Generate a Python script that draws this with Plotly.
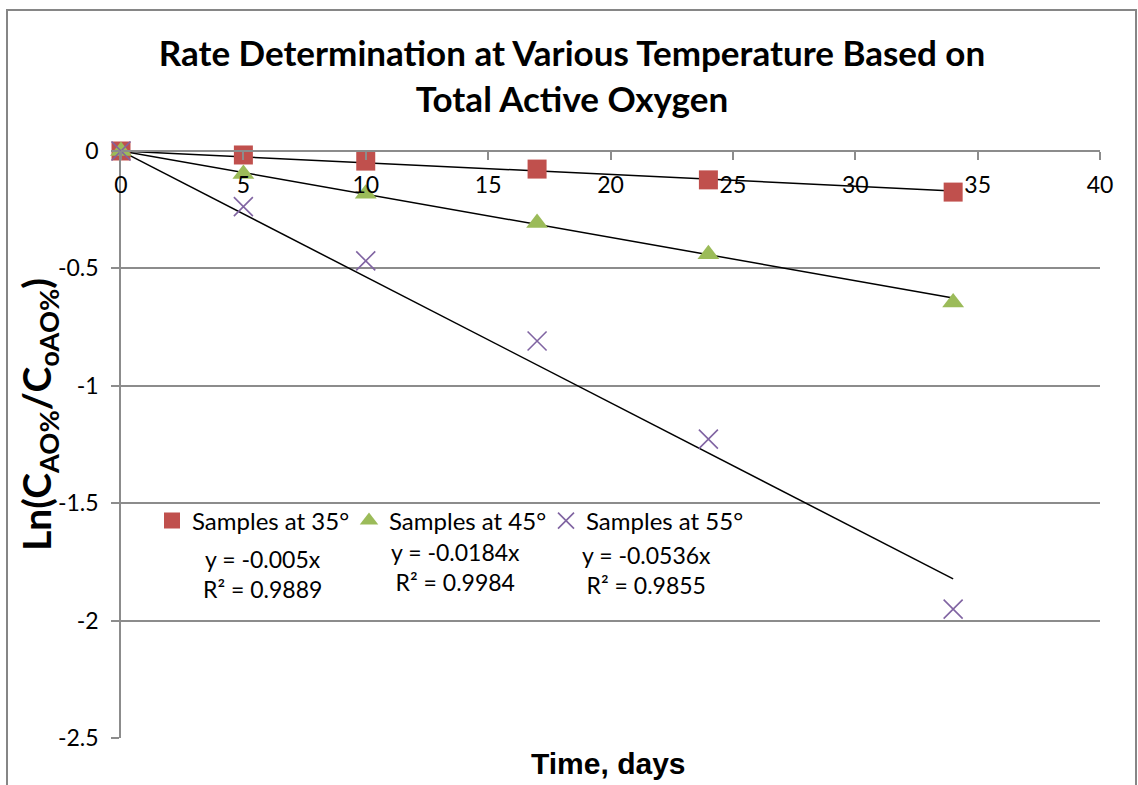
import plotly.graph_objects as go

# ---- data ----
days = [0, 5, 10, 17, 24, 34]
s35 = [0.0, -0.017, -0.043, -0.077, -0.123, -0.175]
s45 = [0.0, -0.098, -0.182, -0.307, -0.440, -0.645]
s55 = [0.0, -0.237, -0.468, -0.809, -1.227, -1.951]
series_names = ["Samples at 35°", "Samples at 45°", "Samples at 55°"]
slopes = [-0.005, -0.0184, -0.0536]
r2 = [0.9889, 0.9984, 0.9855]
trend_x = [0, 34]
x_ticks = [0, 5, 10, 15, 20, 25, 30, 35, 40]
y_ticks = [0, -0.5, -1, -1.5, -2, -2.5]
y_ticktext = ["0", "-0.5", "-1", "-1.5", "-2", "-2.5"]

CAL = "Lato, Carlito, Calibri, sans-serif"
GRID = "#8C8C8C"

fig = go.Figure()

# trendlines
for m in slopes:
    fig.add_trace(go.Scatter(
        x=trend_x, y=[m * v for v in trend_x], mode="lines",
        line=dict(color="black", width=1.5), showlegend=False,
        hoverinfo="skip", cliponaxis=False))

fig.add_trace(go.Scatter(
    x=days, y=s35, mode="markers", name=series_names[0],
    marker=dict(symbol="square", size=19, color="#C0504D"), cliponaxis=False))
fig.add_trace(go.Scatter(
    x=days, y=s45, mode="markers", name=series_names[1],
    marker=dict(symbol="triangle-up", size=19, color="#9BBB59"), cliponaxis=False))
fig.add_trace(go.Scatter(
    x=days, y=s55, mode="markers", name=series_names[2],
    marker=dict(symbol="x-thin", size=19, color="#8064A2",
                line=dict(color="#8064A2", width=1.6)), cliponaxis=False))

# trendline labels
label_pos = [(262, 574), (455, 567), (646, 570)]
for (px, py), m, r in zip(label_pos, slopes, r2):
    fig.add_annotation(
        x=(px - 121) / 979, y=(738 - py) / 587, xref="paper", yref="paper",
        text=f"y = {m:g}x<br>R² = {r:.4f}", showarrow=False,
        font=dict(family=CAL, size=23, color="black"), align="center",
        xanchor="center", yanchor="middle")

# axis titles
fig.add_annotation(
    x=(39 - 121) / 979, y=(738 - 415) / 587, xref="paper", yref="paper",
    text="<b>Ln(C<sub>AO%</sub>/C<sub>oAO%</sub>)</b>", textangle=-90,
    showarrow=False, font=dict(family=CAL, size=39, color="black"),
    xanchor="center", yanchor="middle")
fig.add_annotation(
    x=(608 - 121) / 979, y=(738 - 763) / 587, xref="paper", yref="paper",
    text="<b>Time, days</b>", showarrow=False,
    font=dict(family="Liberation Sans, Arial", size=30, color="black"),
    xanchor="center", yanchor="middle")

# chart border
fig.add_shape(type="rect", xref="paper", yref="paper",
              x0=(7 - 121) / 979, x1=(1136 - 121) / 979,
              y0=(738 - 820) / 587, y1=(738 - 10) / 587,
              line=dict(color="#868686", width=2), fillcolor="rgba(0,0,0,0)")

fig.update_layout(
    width=1138, height=785,
    margin=dict(l=121, r=38, t=151, b=47),
    paper_bgcolor="white", plot_bgcolor="white",
    title=dict(text="<b>Rate Determination at Various Temperature Based on<br>Total Active Oxygen</b>",
               x=572 / 1138, xanchor="center", y=1 - 66 / 785, yanchor="middle",
               xref="container", yref="container",
               font=dict(family=CAL, size=35, color="black")),
    legend=dict(orientation="h", x=(152 - 121) / 979, y=(738 - 521) / 587,
                xanchor="left", yanchor="middle",
                font=dict(family=CAL, size=24, color="black"),
                bgcolor="rgba(0,0,0,0)", itemwidth=30,
                entrywidth=152, entrywidthmode="pixels"),
    showlegend=True,
)

fig.update_xaxes(
    range=[0, 40], tickvals=x_ticks, anchor="free", position=1, side="bottom",
    ticks="outside", ticklen=8, tickcolor=GRID, tickwidth=1.5,
    showline=True, linecolor=GRID, linewidth=1.5, showgrid=False, zeroline=False,
    ticklabelstandoff=6,
    tickfont=dict(family=CAL, size=23, color="black"))
fig.update_yaxes(
    range=[-2.5, 0], tickvals=y_ticks, ticktext=y_ticktext,
    ticks="outside", ticklen=8, tickcolor=GRID, tickwidth=1.5,
    showline=True, linecolor=GRID, linewidth=1.5, showgrid=True, gridcolor=GRID,
    gridwidth=1.5, zeroline=False, ticklabelstandoff=8,
    tickfont=dict(family=CAL, size=23, color="black"))

fig.write_html("out.html")
